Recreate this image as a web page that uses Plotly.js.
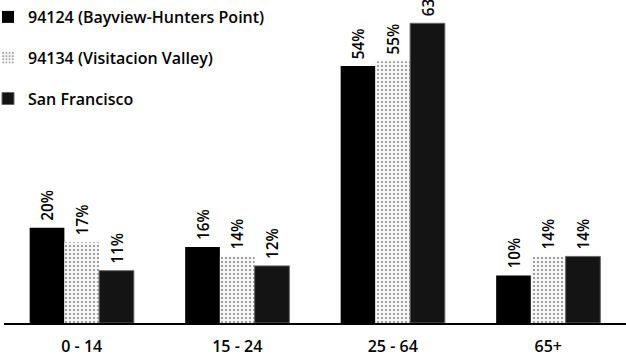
<!DOCTYPE html>
<html>
<head>
<meta charset="utf-8">
<script src="https://cdn.plot.ly/plotly-3.0.1.min.js"></script>
<style>html,body{margin:0;padding:0;background:#fff;}#chart{width:626px;height:362px;}</style>
</head>
<body>
<div id="chart"></div>
<script>
var categories = ["0 - 14", "15 - 24", "25 - 64", "65+"];
var seriesNames = ["94124 (Bayview-Hunters Point)", "94134 (Visitacion Valley)", "San Francisco"];
var bayview = [20, 16, 54, 10];
var visitacion = [17, 14, 55, 14];
var sanFrancisco = [11, 12, 63, 14];

var common = {
  type: "bar",
  x: categories,
  textposition: "outside",
  textangle: -90,
  cliponaxis: true,
  texttemplate: "\u00a0%{y}%",
  textfont: { family: "Open Sans, sans-serif", size: 16.5, color: "#000", weight: 600 },
  hoverinfo: "skip"
};

var traces = [
  Object.assign({}, common, {
    name: seriesNames[0], y: bayview, legendgroup: "a",
    marker: { color: "#000000", line: { color: "#000", width: 0 } }
  }),
  Object.assign({}, common, {
    name: seriesNames[1], y: visitacion, legendgroup: "b",
    marker: { color: "#ececec", line: { width: 0 },
      pattern: { shape: ".", fgcolor: "#8a8a8a", bgcolor: "#f6f6f6", size: 4, solidity: 0.22 } }
  }),
  Object.assign({}, common, {
    name: seriesNames[2], y: sanFrancisco, legendgroup: "c",
    marker: { color: "#141414", line: { color: "#666", width: 1 } }
  })
];

var layout = {
  width: 626, height: 362,
  margin: { l: 4, r: 0, t: 0, b: 39, autoexpand: false },
  paper_bgcolor: "#fff", plot_bgcolor: "#fff",
  barmode: "group",
  bargap: 0.33, bargroupgap: 0,
  showlegend: true,
  legend: {
    xref: "container", yref: "container",
    x: 0, y: 1.0, xanchor: "left", yanchor: "top",
    bgcolor: "rgba(0,0,0,0)",
    indentation: -12,
    font: { family: "Open Sans, sans-serif", size: 16, color: "#000", weight: 600 },
    tracegroupgap: 17, itemwidth: 30
  },
  xaxis: {
    showline: true, linecolor: "#000", linewidth: 2,
    ticks: "", showgrid: false, zeroline: false,
    ticklabelstandoff: 8,
    tickfont: { family: "Open Sans, sans-serif", size: 16, color: "#000", weight: 600 },
    range: [-0.5, 3.5]
  },
  yaxis: {
    range: [0, 67.9], visible: false, showgrid: false, zeroline: false
  },
  font: { family: "Open Sans, sans-serif" }
};

Plotly.newPlot("chart", traces, layout, { displayModeBar: false, staticPlot: true });
</script>
</body>
</html>
